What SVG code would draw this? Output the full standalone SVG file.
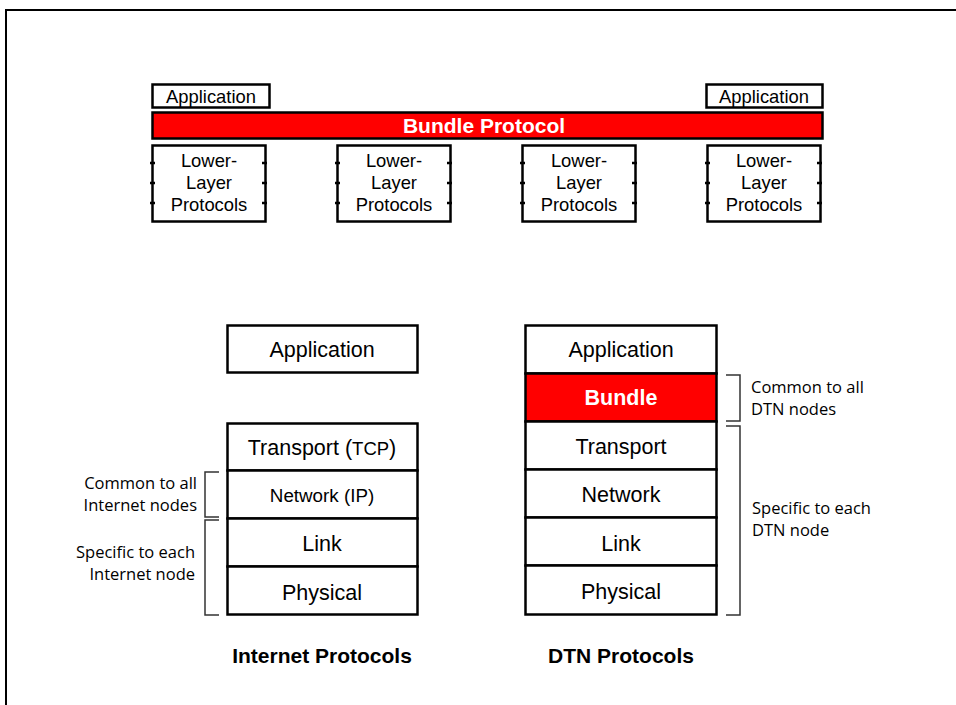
<svg xmlns="http://www.w3.org/2000/svg" width="956" height="705" viewBox="0 0 956 705">
<style>
.box{fill:#fff;stroke:#000;stroke-width:2.5}
.red{fill:#ff0000;stroke:#000;stroke-width:2.5}
.t{font-family:"Liberation Sans",Arial,sans-serif;fill:#000;text-anchor:middle}
.s{font-size:18.4px}
.m{font-size:21.5px}
.b{font-weight:bold}
.w{fill:#fff}
.n{font-family:"Open Sans","Noto Sans",sans-serif;font-size:16.5px;fill:#000}
.br{fill:none;stroke:#333;stroke-width:1.5}
.tk{stroke:#000;stroke-width:2.5}
</style>
<path d="M6 705 V10 H956" fill="none" stroke="#000" stroke-width="2"/>

<g id="app-left"><rect class="box" x="152.5" y="84.5" width="117" height="23"/><text class="t s" x="211" y="103">Application</text></g>
<g id="app-right"><rect class="box" x="706.5" y="84.5" width="116" height="23"/><text class="t s" x="764" y="103">Application</text></g>
<g id="bundle-protocol"><rect class="red" x="152.5" y="112.5" width="670" height="26"/><text class="t b w" x="484" y="133" font-size="21">Bundle Protocol</text></g>

<g id="llp1"><rect class="box" x="152.5" y="145.5" width="113" height="76"/>
<path class="tk" d="M150 163h5M150 183h5M150 203h5M262 163h5M262 183h5M262 203h5"/>
<text class="t s" x="209" y="167">Lower-</text><text class="t s" x="209" y="189">Layer</text><text class="t s" x="209" y="211">Protocols</text></g>
<g id="llp2"><rect class="box" x="337.5" y="145.5" width="113" height="76"/>
<path class="tk" d="M335 163h5M335 183h5M335 203h5M447 163h5M447 183h5M447 203h5"/>
<text class="t s" x="394" y="167">Lower-</text><text class="t s" x="394" y="189">Layer</text><text class="t s" x="394" y="211">Protocols</text></g>
<g id="llp3"><rect class="box" x="522.5" y="145.5" width="113" height="76"/>
<path class="tk" d="M520 163h5M520 183h5M520 203h5M632 163h5M632 183h5M632 203h5"/>
<text class="t s" x="579" y="167">Lower-</text><text class="t s" x="579" y="189">Layer</text><text class="t s" x="579" y="211">Protocols</text></g>
<g id="llp4"><rect class="box" x="707.5" y="145.5" width="113" height="76"/>
<path class="tk" d="M705 163h5M705 183h5M705 203h5M817 163h5M817 183h5M817 203h5"/>
<text class="t s" x="764" y="167">Lower-</text><text class="t s" x="764" y="189">Layer</text><text class="t s" x="764" y="211">Protocols</text></g>

<g id="inet-app"><rect class="box" x="227.5" y="325.5" width="190" height="47"/><text class="t m" x="322" y="357">Application</text></g>
<g id="inet-transport"><rect class="box" x="227.5" y="423.5" width="190" height="47"/><text class="t m" x="322" y="455">Transport (<tspan font-size="18.5">TCP</tspan>)</text></g>
<g id="inet-network"><rect class="box" x="227.5" y="470.5" width="190" height="48"/><text class="t" font-size="18.8" x="322" y="502">Network (IP)</text></g>
<g id="inet-link"><rect class="box" x="227.5" y="518.5" width="190" height="48"/><text class="t m" x="322" y="551">Link</text></g>
<g id="inet-physical"><rect class="box" x="227.5" y="566.5" width="190" height="48"/><text class="t m" x="322" y="600">Physical</text></g>

<g id="dtn-app"><rect class="box" x="525.5" y="325.5" width="191" height="48"/><text class="t m" x="621" y="357">Application</text></g>
<g id="dtn-bundle"><rect class="red" x="525.5" y="373.5" width="191" height="48"/><text class="t m b w" x="621" y="405">Bundle</text></g>
<g id="dtn-transport"><rect class="box" x="525.5" y="421.5" width="191" height="48"/><text class="t m" x="621" y="454">Transport</text></g>
<g id="dtn-network"><rect class="box" x="525.5" y="469.5" width="191" height="48"/><text class="t m" x="621" y="502">Network</text></g>
<g id="dtn-link"><rect class="box" x="525.5" y="517.5" width="191" height="48"/><text class="t m" x="621" y="551">Link</text></g>
<g id="dtn-physical"><rect class="box" x="525.5" y="565.5" width="191" height="49"/><text class="t m" x="621" y="599">Physical</text></g>

<g id="brackets">
<path class="br" d="M219 472H205V517H219"/>
<path class="br" d="M219 520H205V615H219"/>
<path class="br" d="M726 375H740V421H726"/>
<path class="br" d="M726 426H740V615H726"/>
</g>

<g id="notes">
<text class="n" x="197" y="489" text-anchor="end">Common to all</text>
<text class="n" x="197" y="511" text-anchor="end">Internet nodes</text>
<text class="n" x="195" y="558" text-anchor="end">Specific to each</text>
<text class="n" x="195" y="580" text-anchor="end">Internet node</text>
<text class="n" x="751" y="393">Common to all</text>
<text class="n" x="751" y="415">DTN nodes</text>
<text class="n" x="752" y="514">Specific to each</text>
<text class="n" x="752" y="536">DTN node</text>
</g>

<g id="titles">
<text class="t b" x="322" y="663" font-size="21">Internet Protocols</text>
<text class="t b" x="621" y="663" font-size="21">DTN Protocols</text>
</g>
</svg>
